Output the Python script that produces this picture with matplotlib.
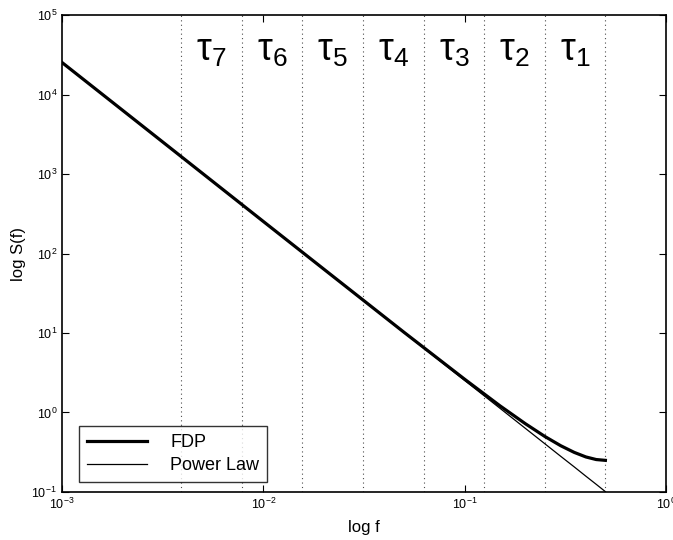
import numpy as np
import matplotlib
matplotlib.use('Agg')
import matplotlib.pyplot as plt
import matplotlib.transforms as mtransforms

plt.rcParams['font.family'] = ['Liberation Sans', 'DejaVu Sans']
plt.rcParams['mathtext.fontset'] = 'custom'
plt.rcParams['mathtext.rm'] = 'Liberation Sans'
plt.rcParams['mathtext.it'] = 'Liberation Sans:italic'

# values
freq = [0.001, 0.002, 0.005, 0.01, 0.02, 0.05, 0.1, 0.15, 0.2, 0.25, 0.3, 0.35, 0.4, 0.45, 0.5]
fdp = [25300, 6330, 1013, 253, 63.4, 10.2, 2.62, 1.21, 0.724, 0.50, 0.382, 0.315, 0.276, 0.256, 0.25]
power_law = [25330, 6333, 1013, 253.3, 63.3, 10.13, 2.533, 1.126, 0.633, 0.405, 0.281, 0.207, 0.158, 0.125, 0.101]

band_edges = [1/256, 1/128, 1/64, 1/32, 1/16, 1/8, 1/4, 1/2]
band_labels = [r'$\mathrm{\tau}_{7}$', r'$\mathrm{\tau}_{6}$', r'$\mathrm{\tau}_{5}$', r'$\mathrm{\tau}_{4}$',
               r'$\mathrm{\tau}_{3}$', r'$\mathrm{\tau}_{2}$', r'$\mathrm{\tau}_{1}$']

fig = plt.figure(figsize=(6.73, 5.40), dpi=100)
ax = fig.add_axes([0.0921, 0.0889, 0.8975, 0.8833])

ax.loglog(freq, fdp, color='k', lw=2.3, label='FDP')
ax.loglog(freq, power_law, color='k', lw=0.9, label='Power Law')

for e in band_edges:
    ax.axvline(e, color='k', lw=0.8, ls=(0, (1, 3)), alpha=0.7)

trans = mtransforms.blended_transform_factory(ax.transData, ax.transAxes)
for i, lab in enumerate(band_labels):
    xc = np.sqrt(band_edges[i] * band_edges[i + 1])
    ax.text(xc, 0.925, lab, transform=trans, ha='center', va='center', fontsize=27)

ax.set_xlim(1e-3, 1)
ax.set_ylim(1e-1, 1e5)
ax.minorticks_off()
ax.tick_params(which='both', direction='in', top=True, right=True, labelsize=9, length=5, width=0.8)
for s in ax.spines.values():
    s.set_linewidth(1.2)

ax.set_xlabel('log f', fontsize=12, labelpad=6)
ax.set_ylabel('log S(f)', fontsize=12, labelpad=4)

leg = ax.legend(loc='lower left', fontsize=13, frameon=True, fancybox=False, edgecolor='k',
                handlelength=3.3, handletextpad=1.3, borderpad=0.45, labelspacing=0.3,
                borderaxespad=0, bbox_to_anchor=(0.028, 0.021))
leg.get_frame().set_linewidth(1.0)

plt.savefig('out.png', dpi=100)
